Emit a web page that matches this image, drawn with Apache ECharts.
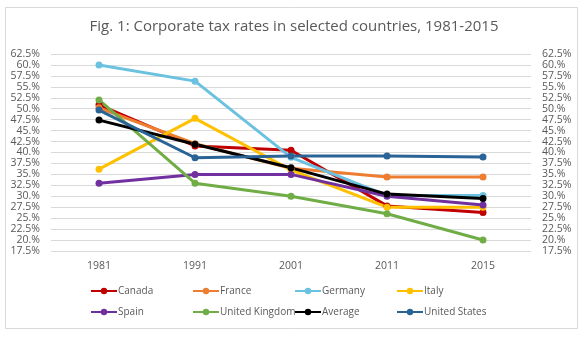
<!DOCTYPE html>
<html>
<head>
<meta charset="utf-8">
<script src="https://cdn.jsdelivr.net/npm/echarts@6/dist/echarts.min.js"></script>
<style>
  html, body { margin: 0; padding: 0; background: #fff; }
  #chart { width: 588px; height: 337px; }
</style>
</head>
<body>
<div id="chart"></div>
<script>
// Survey years
const years = ['1981', '1991', '2001', '2011', '2015'];

// Corporate tax rates (%) per country
const canada  = [50.9, 41.5, 40.5, 27.8, 26.3];
const france  = [50.2, 42.0, 36.4, 34.4, 34.4];
const germany = [60.0, 56.3, 38.9, 30.2, 30.2];
const italy   = [36.2, 47.8, 36.0, 27.5, 27.5];
const spain   = [33.0, 35.0, 35.0, 30.0, 28.0];
const uk      = [52.0, 33.0, 30.0, 26.0, 20.0];
const average = [47.4, 41.9, 36.5, 30.5, 29.5];
const us      = [49.7, 38.8, 39.2, 39.2, 39.0];

// Value-axis tick labels (general percentage format, trailing dot kept)
const tickLabels = {
  17.5: '17.5%', 20: '20.%', 22.5: '22.5%', 25: '25.%', 27.5: '27.5%',
  30: '30.%', 32.5: '32.5%', 35: '35.%', 37.5: '37.5%', 40: '40.%',
  42.5: '42.5%', 45: '45.%', 47.5: '47.5%', 50: '50.%', 52.5: '52.5%',
  55: '55.%', 57.5: '57.5%', 60: '60.%', 62.5: '62.5%'
};

const seriesDefs = [
  { name: 'Canada',         data: canada,  color: '#C00000' },
  { name: 'France',         data: france,  color: '#ED7D31' },
  { name: 'Germany',        data: germany, color: '#6BC2E0' },
  { name: 'Italy',          data: italy,   color: '#FFC000' },
  { name: 'Spain',          data: spain,   color: '#7030A0' },
  { name: 'United Kingdom', data: uk,      color: '#70AD47' },
  { name: 'Average',        data: average, color: '#000000' },
  { name: 'United States',  data: us,      color: '#2A6395' }
];

const FONT = 'Open Sans';
const GREY = '#595959';

const chart = echarts.init(document.getElementById('chart'), null, { renderer: 'canvas' });

const labelFmt = v => tickLabels[v] !== undefined ? tickLabels[v] : v + '%';

const valueAxis = (pos) => ({
  type: 'value',
  position: pos,
  min: 17.5,
  max: 62.5,
  interval: 2.5,
  axisLine: { show: false },
  axisTick: { show: false },
  splitLine: { show: pos === 'left', lineStyle: { color: '#D9D9D9', width: 1 } },
  axisLabel: {
    color: GREY, fontFamily: FONT, fontSize: 10.5,
    margin: 11,
    formatter: labelFmt
  }
});

// One legend block per series, laid out on a 4-column, 2-row grid
const legends = seriesDefs.map((s, i) => ({
  data: [s.name],
  left: 90 + (i % 4) * 102,
  top: i < 4 ? 286 : 307,
  padding: 0,
  itemWidth: 26, itemHeight: 8, itemGap: 0,
  textStyle: { color: GREY, fontFamily: FONT, fontSize: 10, padding: [0, 0, 0, -4] }
}));

chart.setOption({
  animation: false,
  backgroundColor: '#fff',
  title: {
    text: 'Fig. 1: Corporate tax rates in selected countries, 1981-2015',
    left: 'center', top: 14,
    textStyle: { color: GREY, fontFamily: FONT, fontSize: 15, fontWeight: 'normal' }
  },
  graphic: [{
    type: 'rect', shape: { x: 5.5, y: 7.5, width: 572, height: 321 },
    style: { fill: 'none', stroke: '#D9D9D9', lineWidth: 1 }, silent: true
  }],
  legend: legends,
  grid: { left: 51, right: 57, top: 54, bottom: 86 },
  xAxis: {
    type: 'category',
    data: years,
    boundaryGap: true,
    axisLine: { show: false },
    axisTick: { show: false },
    axisLabel: { color: GREY, fontFamily: FONT, fontSize: 10.5, margin: 10 }
  },
  yAxis: [valueAxis('left'), valueAxis('right')],
  series: seriesDefs.map(s => ({
    name: s.name,
    type: 'line',
    data: s.data,
    yAxisIndex: 0,
    color: s.color,
    symbol: 'circle',
    symbolSize: 7,
    lineStyle: { width: 3, color: s.color },
    itemStyle: { color: s.color }
  }))
});
</script>
</body>
</html>
